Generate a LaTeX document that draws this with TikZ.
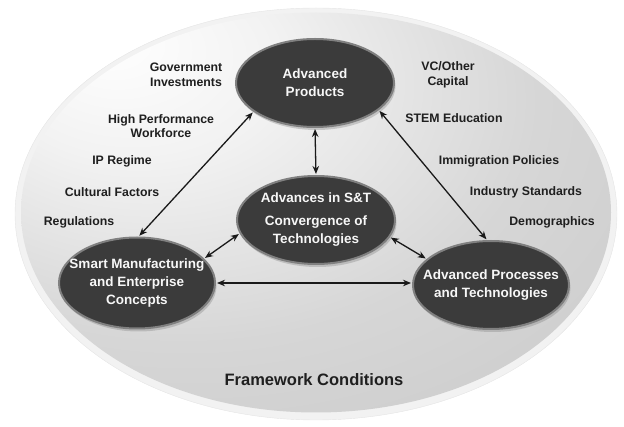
\documentclass[tikz,border=0pt]{standalone}
\usepackage{fontspec}
\setmainfont{Liberation Sans}
\usepackage{tikz}
\usetikzlibrary{arrows.meta,shapes.geometric,shadows}
\usetikzlibrary{positioning}
\pgfdeclareradialshading{frameshade}{\pgfpoint{-18bp}{22bp}}{color(0bp)=(white); color(12bp)=(black!5); color(30bp)=(black!16); color(60bp)=(black!24); color(80bp)=(black!28)}
\tikzstyle{rim} =
[
	ellipse,inner sep=0pt,
	minimum width=602pt, minimum height=412pt,
	fill=black!5, draw=black!10, thin
]
\tikzstyle{frame} =
[
	ellipse,inner sep=0pt,
	minimum width=590pt, minimum height=400pt,
	shade, shading=frameshade
]
\tikzstyle{hub} =
[
	ellipse,inner sep=0pt,
	minimum width=158pt, minimum height=88pt,
	fill=black!77, draw=black!50, line width=2pt,
	drop shadow={shadow xshift=1.5pt, shadow yshift=-3pt, opacity=0.35}
]
\tikzstyle{hubtext} =
[
	text=black!3, align=center, inner sep=0pt,
	font=\fontsize{13.5}{18}\selectfont\bfseries
]
\tikzstyle{lbl} =
[
	text=black!88, align=center, inner sep=1pt,
	font=\fontsize{12.3}{14.5}\selectfont\bfseries
]
\tikzstyle{link} =
[
	<->, line width=1.3pt, black!90
]

\begin{document}
\begin{tikzpicture}[x=1pt,y=-1pt,>={Stealth[length=8pt,width=6.5pt]},shorten >=1pt,shorten <=1pt]

\useasboundingbox (0,0) rectangle (624,427);

\node[rim] (F0) at (316,214) {};
\node[frame] (F1) at (316,212.5) {};

\node[hub] (AP) at (315,83) {};
\node[hub] (ST) at (316,220) {};
\node[hub, minimum width=156pt, minimum height=91pt] (SM) at (137,283) {};
\node[hub, minimum width=156pt] (PT) at (491,285) {};

\node[hubtext] (T1) at (AP) {Advanced\\Products};
\node[hubtext] (T2) at (ST) {Advances in S\&T\\[5pt]Convergence of\\Technologies};
\node[hubtext] (T3) at (SM) {Smart Manufacturing\\and Enterprise\\Concepts};
\node[hubtext] (T4) at (PT) {Advanced Processes\\and Technologies};

\node[lbl] (L1) at (186,75) {Government\\Investments};
\node[lbl] (L2) at (161,126) {High Performance\\Workforce};
\node[lbl] (L3) at (122,161) {IP Regime};
\node[lbl] (L4) at (112,192) {Cultural Factors};
\node[lbl] (L5) at (79,222) {Regulations};

\node[lbl] (R1) at (448,75) {VC/Other\\Capital};
\node[lbl] (R2) at (454,118) {STEM Education};
\node[lbl] (R3) at (499,161) {Immigration Policies};
\node[lbl] (R4) at (526,192) {Industry Standards};
\node[lbl] (R5) at (552,222) {Demographics};

\node[lbl, font=\fontsize{16.5}{20}\selectfont\bfseries] (FC) at (314,380) {Framework Conditions};
%
\path[link]
	(AP.south) edge (ST.north)
	(AP.205) edge (SM.88)
	(AP.337) edge (PT.95)
	(ST.190) edge (SM.20)
	(ST.347) edge (PT.158)
	(SM.east) edge (SM.east -| PT.west);

\end{tikzpicture}
\end{document}
